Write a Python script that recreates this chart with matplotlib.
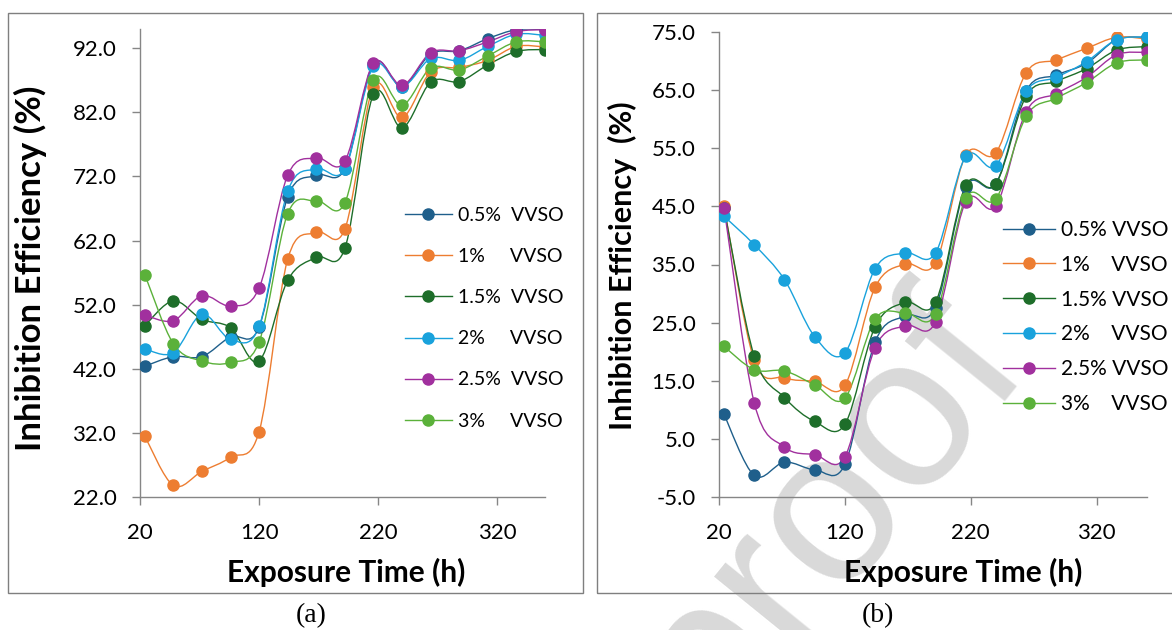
import numpy as np
import matplotlib
matplotlib.use("Agg")
import matplotlib.pyplot as plt
from matplotlib.path import Path
from matplotlib.patches import PathPatch, Rectangle
from matplotlib.lines import Line2D

plt.rcParams['font.family'] = ['Lato', 'DejaVu Sans']

# ---------------------------
# data
# ---------------------------
time_h = [24, 48, 72, 96, 120, 144, 168, 192, 216, 240, 264, 288, 312, 336, 360]

# (a)
a_05 = [42.4, 43.9, 43.9, 47.0, 48.5, 68.8, 72.2, 73.2, 89.6, 86.0, 91.1, 91.6, 93.5, 94.9, 94.9]
a_10 = [31.5, 23.8, 26.0, 28.2, 32.2, 59.1, 63.3, 63.8, 86.0, 81.2, 88.3, 89.0, 90.1, 92.3, 92.2]
a_15 = [48.7, 52.6, 49.7, 48.4, 43.2, 55.8, 59.4, 60.8, 84.8, 79.6, 86.7, 86.8, 89.4, 91.5, 91.8]
a_20 = [45.1, 44.5, 50.5, 46.6, 48.6, 69.7, 73.2, 73.2, 89.2, 86.0, 90.4, 90.1, 92.3, 94.2, 94.0]
a_25 = [50.4, 49.5, 53.4, 51.8, 54.6, 72.2, 74.9, 74.4, 89.7, 86.2, 91.3, 91.6, 93.0, 94.6, 94.9]
a_30 = [56.7, 45.9, 43.2, 43.0, 46.2, 66.2, 68.2, 67.9, 87.1, 83.1, 88.9, 88.6, 90.8, 93.0, 93.0]

# (b)
b_05 = [9.2, -1.3, 1.0, -0.3, 0.6, 21.7, 26.2, 27.6, 48.3, 48.9, 64.9, 67.6, 69.6, 73.7, 74.1]
b_10 = [45.0, 18.5, 15.5, 14.9, 14.2, 31.1, 35.1, 35.3, 53.8, 54.2, 68.0, 70.2, 72.2, 74.1, 73.8]
b_15 = [44.7, 19.2, 12.1, 8.0, 7.5, 24.3, 28.5, 28.5, 48.6, 48.9, 64.0, 66.5, 68.7, 71.9, 72.5]
b_20 = [43.3, 38.4, 32.4, 22.6, 19.8, 34.3, 37.0, 37.0, 53.6, 52.0, 64.8, 67.2, 69.9, 73.7, 74.1]
b_25 = [44.8, 11.2, 3.6, 2.3, 1.9, 20.7, 24.5, 25.1, 45.8, 45.1, 61.3, 64.4, 67.2, 71.1, 71.5]
b_30 = [20.9, 16.9, 16.7, 14.3, 12.0, 25.6, 26.7, 26.5, 46.4, 46.3, 60.5, 63.6, 66.3, 69.7, 70.2]

labels_a = ["0.5%  VVSO", "1%     VVSO", "1.5%  VVSO", "2%     VVSO", "2.5%  VVSO", "3%     VVSO"]
labels_b = ["0.5% VVSO", "1%    VVSO", "1.5% VVSO", "2%    VVSO", "2.5% VVSO", "3%    VVSO"]
colors = ["#1F5F8B", "#ED7D31", "#1E6E2A", "#19A2DC", "#A1309E", "#5BB13A"]

W, H = 1172, 630


def fx(px):
    return px / W


def fy(py):
    return 1 - py / H


def smooth_path(x, y):
    # Excel-like smoothed line (cubic Bezier through the points)
    x = np.asarray(x, float)
    y = np.asarray(y, float)
    n = len(x)
    verts = [(x[0], y[0])]
    codes = [Path.MOVETO]
    for i in range(n - 1):
        xp, yp = (x[i - 1], y[i - 1]) if i > 0 else (x[i], y[i])
        xn, yn = (x[i + 2], y[i + 2]) if i + 2 < n else (x[i + 1], y[i + 1])
        c1 = (x[i] + (x[i + 1] - xp) / 6, y[i] + (y[i + 1] - yp) / 6)
        c2 = (x[i + 1] - (xn - x[i]) / 6, y[i + 1] - (yn - y[i]) / 6)
        verts += [c1, c2, (x[i + 1], y[i + 1])]
        codes += [Path.CURVE4] * 3
    return Path(verts, codes)


def draw_panel(ax, series, labels, ylim, yticks, leg_xy, leg_fs, leg_sp, leg_hl, xlab_x):
    for ys, c in zip(series, colors):
        ax.add_patch(PathPatch(smooth_path(time_h, ys), fill=False, ec=c, lw=1.0, zorder=2))
        ax.plot(time_h, ys, 'o', color=c, ms=8, zorder=3)
    ax.set_xlim(20, 360)
    ax.set_ylim(*ylim)
    ax.set_xticks([20, 120, 220, 320])
    ax.set_yticks(yticks)
    ax.set_yticklabels([f"{v:.1f}" for v in yticks])
    ax.set_facecolor('none')
    for s in ['top', 'right']:
        ax.spines[s].set_visible(False)
    for s in ['left', 'bottom']:
        ax.spines[s].set_color('#868686')
        ax.spines[s].set_linewidth(1.0)
    ax.tick_params(axis='both', direction='out', length=6, width=1, color='#868686',
                   labelsize=16)
    ax.tick_params(axis='x', pad=13)
    ax.tick_params(axis='y', pad=11)
    ax.set_xlabel("Exposure Time (h)", fontsize=21.5, fontweight='bold')
    ax.xaxis.set_label_coords(xlab_x, fy(572), transform=fig.transFigure)
    ax.xaxis.label.set_va('center')
    handles = [Line2D([], [], color=c, lw=1.0, marker='o', ms=8) for c in colors]
    ax.legend(handles, labels, loc='upper left', bbox_to_anchor=leg_xy,
              bbox_transform=fig.transFigure, frameon=False,
              fontsize=leg_fs, borderpad=0, borderaxespad=0, labelspacing=leg_sp,
              handlelength=leg_hl, handletextpad=0.3, numpoints=1)


fig = plt.figure(figsize=(W / 100, H / 100), dpi=100)

ax_a = fig.add_axes([fx(140), fy(497), fx(545) - fx(140), fy(29) - fy(497)])
ax_b = fig.add_axes([fx(719), fy(497), fx(1147) - fx(719), fy(32) - fy(497)])

draw_panel(ax_a, [a_05, a_10, a_15, a_20, a_25, a_30], labels_a, (22, 95),
           [22, 32, 42, 52, 62, 72, 82, 92], (fx(405), fy(207)), 14, 1.24, 2.4, fx(346))
draw_panel(ax_b, [b_05, b_10, b_15, b_20, b_25, b_30], labels_b, (-5, 75),
           [-5, 5, 15, 25, 35, 45, 55, 65, 75], (fx(1003), fy(220)), 15, 0.71, 2.5, fx(963))

ax_a.set_ylabel("Inhibition Efficiency (%)", fontsize=25, fontweight='bold')
ax_a.yaxis.set_label_coords(fx(30), fy(268), transform=fig.transFigure)
ax_b.set_ylabel("Inhibition Efficiency  (%)", fontsize=22, fontweight='bold')
ax_b.yaxis.set_label_coords(fx(622), fy(266), transform=fig.transFigure)
for ax in (ax_a, ax_b):
    ax.yaxis.label.set_va('center')

# panel frames
fig.add_artist(Rectangle((fx(7.5), fy(592.5)), fx(583) - fx(7.5), fy(12.5) - fy(592.5),
                         transform=fig.transFigure, fill=False, ec='#7f7f7f', lw=1.0))
fig.add_artist(Rectangle((fx(597), fy(592.5)), fx(1180) - fx(597), fy(12.5) - fy(592.5),
                         transform=fig.transFigure, fill=False, ec='#7f7f7f', lw=1.0))

fig.text(fx(311), fy(616), "(a)", fontsize=20, family=['Liberation Serif'], ha='center', va='center')
fig.text(fx(878), fy(616), "(b)", fontsize=20, family=['Liberation Serif'], ha='center', va='center')

# watermark
fig.text(fx(714), fy(743), "proof", fontsize=157, family=['Liberation Sans'], color='#d9d9d9',
         rotation=51, rotation_mode='anchor', ha='left', va='baseline', zorder=-1)

fig.savefig("out.png", dpi=100)
